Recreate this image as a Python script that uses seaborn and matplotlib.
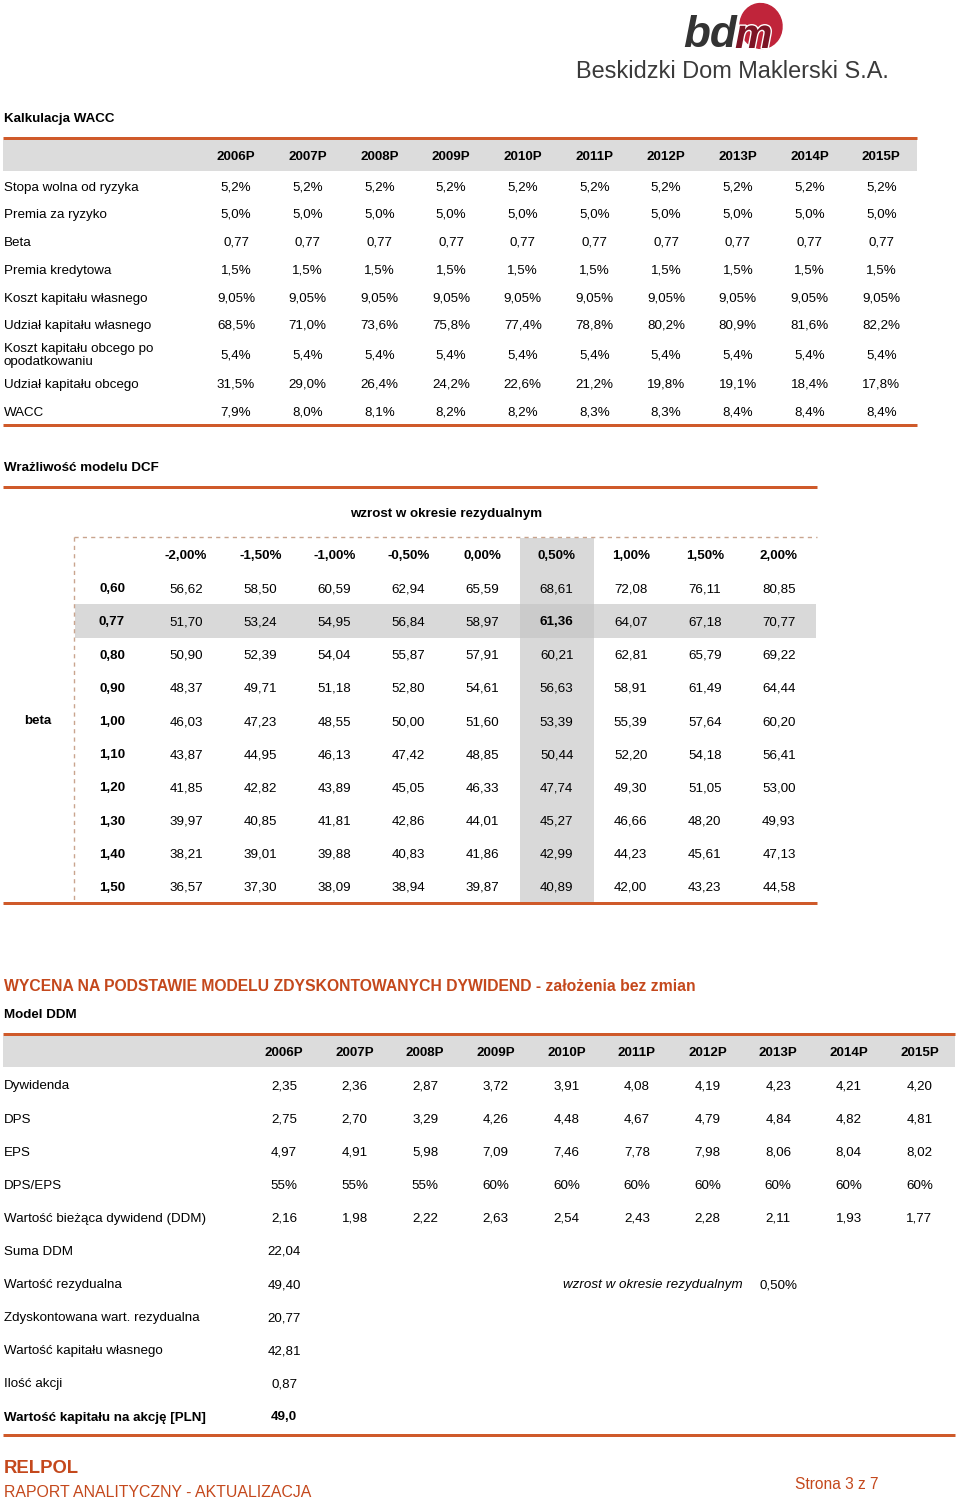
import numpy as np
import matplotlib
matplotlib.use("Agg")
import matplotlib.pyplot as plt
from matplotlib.colors import ListedColormap
from matplotlib.patches import Ellipse, Rectangle
import matplotlib.patheffects as pe
import seaborn as sns

# ---------------- DATA ----------------
wacc_years = ["2006P", "2007P", "2008P", "2009P", "2010P", "2011P", "2012P", "2013P", "2014P", "2015P"]
wacc_labels = ["Stopa wolna od ryzyka", "Premia za ryzyko", "Beta", "Premia kredytowa",
               "Koszt kapitału własnego", "Udział kapitału własnego",
               "Koszt kapitału obcego po\nopodatkowaniu", "Udział kapitału obcego", "WACC"]
risk_free = [5.2, 5.2, 5.2, 5.2, 5.2, 5.2, 5.2, 5.2, 5.2, 5.2]
risk_premium = [5.0, 5.0, 5.0, 5.0, 5.0, 5.0, 5.0, 5.0, 5.0, 5.0]
beta_vals = [0.77, 0.77, 0.77, 0.77, 0.77, 0.77, 0.77, 0.77, 0.77, 0.77]
credit_premium = [1.5, 1.5, 1.5, 1.5, 1.5, 1.5, 1.5, 1.5, 1.5, 1.5]
cost_equity = [9.05, 9.05, 9.05, 9.05, 9.05, 9.05, 9.05, 9.05, 9.05, 9.05]
share_equity = [68.5, 71.0, 73.6, 75.8, 77.4, 78.8, 80.2, 80.9, 81.6, 82.2]
cost_debt = [5.4, 5.4, 5.4, 5.4, 5.4, 5.4, 5.4, 5.4, 5.4, 5.4]
share_debt = [31.5, 29.0, 26.4, 24.2, 22.6, 21.2, 19.8, 19.1, 18.4, 17.8]
wacc = [7.9, 8.0, 8.1, 8.2, 8.2, 8.3, 8.3, 8.4, 8.4, 8.4]

growth = [-2.0, -1.5, -1.0, -0.5, 0.0, 0.5, 1.0, 1.5, 2.0]
betas = [0.60, 0.77, 0.80, 0.90, 1.00, 1.10, 1.20, 1.30, 1.40, 1.50]
sens = [
    [56.62, 58.50, 60.59, 62.94, 65.59, 68.61, 72.08, 76.11, 80.85],
    [51.70, 53.24, 54.95, 56.84, 58.97, 61.36, 64.07, 67.18, 70.77],
    [50.90, 52.39, 54.04, 55.87, 57.91, 60.21, 62.81, 65.79, 69.22],
    [48.37, 49.71, 51.18, 52.80, 54.61, 56.63, 58.91, 61.49, 64.44],
    [46.03, 47.23, 48.55, 50.00, 51.60, 53.39, 55.39, 57.64, 60.20],
    [43.87, 44.95, 46.13, 47.42, 48.85, 50.44, 52.20, 54.18, 56.41],
    [41.85, 42.82, 43.89, 45.05, 46.33, 47.74, 49.30, 51.05, 53.00],
    [39.97, 40.85, 41.81, 42.86, 44.01, 45.27, 46.66, 48.20, 49.93],
    [38.21, 39.01, 39.88, 40.83, 41.86, 42.99, 44.23, 45.61, 47.13],
    [36.57, 37.30, 38.09, 38.94, 39.87, 40.89, 42.00, 43.23, 44.58],
]
base_growth = 0.5
base_beta = 0.77

ddm_years = ["2006P", "2007P", "2008P", "2009P", "2010P", "2011P", "2012P", "2013P", "2014P", "2015P"]
dividend = [2.35, 2.36, 2.87, 3.72, 3.91, 4.08, 4.19, 4.23, 4.21, 4.20]
dps = [2.75, 2.70, 3.29, 4.26, 4.48, 4.67, 4.79, 4.84, 4.82, 4.81]
eps = [4.97, 4.91, 5.98, 7.09, 7.46, 7.78, 7.98, 8.06, 8.04, 8.02]
payout = [55, 55, 55, 60, 60, 60, 60, 60, 60, 60]
pv_div = [2.16, 1.98, 2.22, 2.63, 2.54, 2.43, 2.28, 2.11, 1.93, 1.77]
summary_labels = ["Suma DDM", "Wartość rezydualna", "Zdyskontowana wart. rezydualna",
                  "Wartość kapitału własnego", "Ilość akcji", "Wartość kapitału na akcję [PLN]"]
summary_values = ["22,04", "49,40", "20,77", "42,81", "0,87", "49,0"]
residual_growth = 0.50

# ---------------- STYLE ----------------
sns.set_theme(style="white")
FONT = ["Liberation Sans", "DejaVu Sans"]
plt.rcParams["font.family"] = FONT
W, H = 960, 1499
ORANGE = "#cf5a2a"
TITLE_RED = "#c4481c"
GREY = "#dcdcdc"
BODY = 13.4
DY = 1.5


def px(v):
    return v * 72.0 / 100.0


def dec(v, n):
    return f"{v:.{n}f}".replace(".", ",")


fig = plt.figure(figsize=(W / 100, H / 100), dpi=100)
fig.patch.set_facecolor("white")

# ---------------- SENSITIVITY HEATMAP (seaborn) ----------------
hx0, hx1, hy0, hy1 = 75, 816, 538, 903
hax = fig.add_axes([hx0 / W, 1 - hy1 / H, (hx1 - hx0) / W, (hy1 - hy0) / H])
n_r, n_c = len(betas) + 1, len(growth) + 1
ci = growth.index(base_growth) + 1
ri = betas.index(base_beta) + 1
hl = np.zeros((n_r, n_c))
hl[:, ci] = 1
hl[ri, :] = 1
hl[ri, ci] = 2
annot = np.empty((n_r, n_c), dtype=object)
annot[0, 0] = ""
annot[0, 1:] = [dec(g, 2) + "%" for g in growth]
for i, b in enumerate(betas):
    annot[i + 1, 0] = dec(b, 2)
    annot[i + 1, 1:] = [dec(v, 2) for v in sens[i]]
cmap = ListedColormap(["#ffffff", "#d9d9d9", "#cbcbcb"])
sns.heatmap(hl, ax=hax, cmap=cmap, vmin=-0.5, vmax=2.5, cbar=False, annot=annot, fmt="",
            annot_kws={"fontsize": px(BODY), "family": FONT},
            xticklabels=False, yticklabels=False, linewidths=0)
row_px = (hy1 - hy0) / n_r
for t in hax.texts:
    x, y = t.get_position()
    c, r = int(x), int(y)
    t.set_color("black")
    t.set_y(y + DY / row_px)
    if r == 0 or c == 0 or (r == ri and c == ci):
        t.set_fontweight("bold")
hax.set_xticks([])
hax.set_yticks([])
for s in hax.spines.values():
    s.set_visible(False)

# ---------------- PAGE AXES ----------------
ax = fig.add_axes([0, 0, 1, 1])
ax.set_xlim(0, W)
ax.set_ylim(H, 0)
ax.axis("off")


def T(x, y, s, size=BODY, weight="normal", ha="left", color="black", style="normal", **kw):
    ax.text(x, y + DY, s, fontsize=px(size), fontweight=weight, ha=ha, va="center",
            color=color, fontstyle=style, family=FONT, **kw)


def hline(y, x0, x1, lw=3, color=ORANGE):
    ax.plot([x0, x1], [y, y], color=color, lw=px(lw), solid_capstyle="butt")


# Logo
ax.add_patch(Ellipse((761, 26), 42, 45, angle=-10, color="#c0243a", zorder=2))
ax.text(683, 47, "bd", fontsize=px(44), fontweight="bold", fontstyle="italic",
        color="#333333", va="baseline", family=FONT, zorder=3)
ax.text(735, 48, "m", fontsize=px(42), fontweight="bold", fontstyle="italic",
        color="#7d1425", va="baseline", family=FONT, zorder=3,
        path_effects=[pe.withStroke(linewidth=2, foreground="white")])
T(576, 70, "Beskidzki Dom Maklerski S.A.", size=23.5, color="#3a3a3a")

# ---------------- WACC TABLE ----------------
T(4, 117, "Kalkulacja WACC", weight="bold")
hline(138, 3, 917)
ax.add_patch(Rectangle((3, 140), 914, 31, color=GREY, lw=0))
wx0, wdx = 236, 71.7
for j, yr in enumerate(wacc_years):
    T(wx0 + j * wdx, 155, yr, weight="bold", ha="center")
wacc_rows = [
    [dec(v, 1) + "%" for v in risk_free],
    [dec(v, 1) + "%" for v in risk_premium],
    [dec(v, 2) for v in beta_vals],
    [dec(v, 1) + "%" for v in credit_premium],
    [dec(v, 2) + "%" for v in cost_equity],
    [dec(v, 1) + "%" for v in share_equity],
    [dec(v, 1) + "%" for v in cost_debt],
    [dec(v, 1) + "%" for v in share_debt],
    [dec(v, 1) + "%" for v in wacc],
]
wacc_row_y = [186, 213, 241, 269, 297, 324, 354, 383, 411]
for lab, row, y in zip(wacc_labels, wacc_rows, wacc_row_y):
    ax.text(4, y + DY, lab, fontsize=px(BODY), ha="left", va="center", family=FONT,
            linespacing=1.12, color="black")
    for j, s in enumerate(row):
        T(wx0 + j * wdx, y, s, ha="center")
hline(425, 3, 917)

# ---------------- SENSITIVITY FRAME ----------------
T(4, 466, "Wrażliwość modelu DCF", weight="bold")
hline(487, 3, 817)
T(446, 512, "wzrost w okresie rezydualnym", weight="bold", ha="center")
ax.plot([74, 817], [537, 537], color="#c9a48e", lw=1, ls=(0, (3, 3)))
ax.plot([74, 74], [537, 903], color="#c9a48e", lw=1, ls=(0, (3, 3)))
T(38, 719, "beta", weight="bold", ha="center")
hline(903, 3, 817)

# ---------------- DDM TABLE ----------------
T(4, 985, "WYCENA NA PODSTAWIE MODELU ZDYSKONTOWANYCH DYWIDEND - założenia bez zmian",
  size=15.8, weight="bold", color=TITLE_RED)
T(4, 1013, "Model DDM", weight="bold")
hline(1034, 3, 955)
ax.add_patch(Rectangle((3, 1036), 952, 31, color=GREY, lw=0))
dx0, ddx = 284, 70.6
for j, yr in enumerate(ddm_years):
    T(dx0 + j * ddx, 1051, yr, weight="bold", ha="center")
ddm_labels = ["Dywidenda", "DPS", "EPS", "DPS/EPS", "Wartość bieżąca dywidend (DDM)"]
ddm_rows = [
    [dec(v, 2) for v in dividend],
    [dec(v, 2) for v in dps],
    [dec(v, 2) for v in eps],
    [f"{v}%" for v in payout],
    [dec(v, 2) for v in pv_div],
]
y0, rdy = 1085, 33.1
for i, (lab, row) in enumerate(zip(ddm_labels, ddm_rows)):
    y = y0 + i * rdy
    T(4, y, lab)
    for j, s in enumerate(row):
        T(dx0 + j * ddx, y, s, ha="center")
for k, (lab, val) in enumerate(zip(summary_labels, summary_values)):
    y = y0 + (len(ddm_labels) + k) * rdy
    w = "bold" if k == len(summary_labels) - 1 else "normal"
    T(4, y, lab, weight=w)
    T(dx0, y, val, weight=w, ha="center")
y_res = y0 + (len(ddm_labels) + 1) * rdy
T(743, y_res, "wzrost w okresie rezydualnym", ha="right", style="italic")
T(dx0 + 7 * ddx, y_res, dec(residual_growth, 2) + "%", ha="center")
hline(1435, 3, 955)

# ---------------- FOOTER ----------------
T(4, 1467, "RELPOL", size=18.5, weight="bold", color=TITLE_RED)
T(4, 1491, "RAPORT ANALITYCZNY - AKTUALIZACJA", size=15.9, color=TITLE_RED)
T(795, 1483, "Strona 3 z 7", size=15.5, color=TITLE_RED)

fig.savefig("out.png", dpi=100, facecolor="white")
